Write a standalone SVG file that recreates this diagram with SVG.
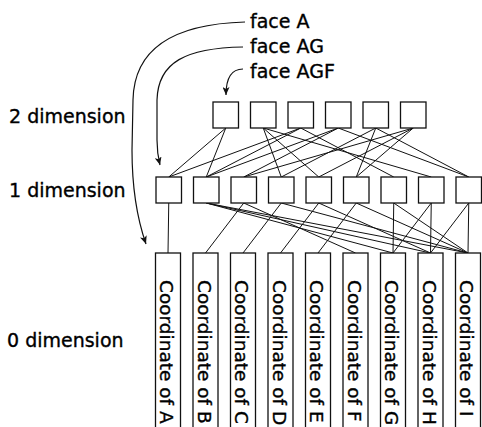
<svg xmlns="http://www.w3.org/2000/svg" width="482" height="427" viewBox="0 0 482 427">
<defs>
<style>
.bx{fill:#fff;stroke:#111;stroke-width:1.3}
.ln{stroke:#111;stroke-width:1;fill:none}
.cv{stroke:#111;stroke-width:1.2;fill:none}
.t{font-family:"DejaVu Sans","Liberation Sans",sans-serif;font-size:19px;fill:#000;stroke:#000;stroke-width:0.35}
.c{font-family:"DejaVu Sans","Liberation Sans",sans-serif;font-size:18.5px;fill:#000;stroke:#000;stroke-width:0.35}
</style>
<marker id="ah" markerUnits="userSpaceOnUse" markerWidth="9" markerHeight="7" refX="8" refY="3.5" orient="auto">
<path d="M0,0 L8,3.5 L0,7 L2,3.5 z" fill="#111"/>
</marker>
</defs>
<rect width="482" height="427" fill="#fff"/>
<g id="labels">
<text class="t" x="9" y="122.5">2 dimension</text>
<text class="t" x="9" y="196.5">1 dimension</text>
<text class="t" x="7" y="346.5">0 dimension</text>
<text class="t" x="250" y="28">face A</text>
<text class="t" x="250" y="53">face AG</text>
<text class="t" x="250" y="78">face AGF</text>
</g>
<g id="connectors">
<path class="cv" marker-end="url(#ah)" d="M245,22 C172,24 134,50 133,100 L132,150 C132,195 139,224 146,244"/>
<path class="cv" marker-end="url(#ah)" d="M243,47 C186,48 158,62 157,100 L157,140 C157,150 158,157 160,165"/>
<path class="cv" marker-end="url(#ah)" d="M243,69 C232,69 226,78 226,95"/>
<g class="ln">
<line x1="225.75" y1="128" x2="168.75" y2="177"/>
<line x1="225.75" y1="128" x2="206.25" y2="177"/>
<line x1="263.25" y1="128" x2="281.25" y2="177"/>
<line x1="263.25" y1="128" x2="318.75" y2="177"/>
<line x1="263.25" y1="128" x2="431.25" y2="177"/>
<line x1="300.75" y1="128" x2="168.75" y2="177"/>
<line x1="300.75" y1="128" x2="206.25" y2="177"/>
<line x1="300.75" y1="128" x2="393.75" y2="177"/>
<line x1="338.25" y1="128" x2="206.25" y2="177"/>
<line x1="338.25" y1="128" x2="243.75" y2="177"/>
<line x1="338.25" y1="128" x2="468.75" y2="177"/>
<line x1="375.75" y1="128" x2="281.25" y2="177"/>
<line x1="375.75" y1="128" x2="356.25" y2="177"/>
<line x1="375.75" y1="128" x2="468.75" y2="177"/>
<line x1="413.25" y1="128" x2="243.75" y2="177"/>
<line x1="413.25" y1="128" x2="318.75" y2="177"/>
<line x1="413.25" y1="128" x2="356.25" y2="177"/>

<line x1="168.75" y1="203" x2="168" y2="253"/>
<line x1="206.25" y1="203" x2="393" y2="253"/>
<line x1="206.25" y1="203" x2="430.5" y2="253"/>
<line x1="206.25" y1="203" x2="468" y2="253"/>
<line x1="243.75" y1="203" x2="205.5" y2="253"/>
<line x1="243.75" y1="203" x2="355.5" y2="253"/>
<line x1="281.25" y1="203" x2="243" y2="253"/>
<line x1="281.25" y1="203" x2="468" y2="253"/>
<line x1="318.75" y1="203" x2="280.5" y2="253"/>
<line x1="318.75" y1="203" x2="430.5" y2="253"/>
<line x1="356.25" y1="203" x2="318" y2="253"/>
<line x1="356.25" y1="203" x2="468" y2="253"/>
<line x1="393.75" y1="203" x2="393" y2="253"/>
<line x1="393.75" y1="203" x2="468" y2="253"/>
<line x1="431.25" y1="203" x2="430.5" y2="253"/>
<line x1="431.25" y1="203" x2="393" y2="253"/>
<line x1="468.75" y1="203" x2="468" y2="253"/>
<line x1="468.75" y1="203" x2="430.5" y2="253"/>
</g>
</g>
<g id="faces2">
<g id="f2-1"><rect class="bx" x="213" y="102" width="25.5" height="26"/></g>
<g id="f2-2"><rect class="bx" x="250.5" y="102" width="25.5" height="26"/></g>
<g id="f2-3"><rect class="bx" x="288" y="102" width="25.5" height="26"/></g>
<g id="f2-4"><rect class="bx" x="325.5" y="102" width="25.5" height="26"/></g>
<g id="f2-5"><rect class="bx" x="363" y="102" width="25.5" height="26"/></g>
<g id="f2-6"><rect class="bx" x="400.5" y="102" width="25.5" height="26"/></g>
</g>
<g id="faces1">
<g id="f1-1"><rect class="bx" x="156" y="177" width="25.5" height="26"/></g>
<g id="f1-2"><rect class="bx" x="193.5" y="177" width="25.5" height="26"/></g>
<g id="f1-3"><rect class="bx" x="231" y="177" width="25.5" height="26"/></g>
<g id="f1-4"><rect class="bx" x="268.5" y="177" width="25.5" height="26"/></g>
<g id="f1-5"><rect class="bx" x="306" y="177" width="25.5" height="26"/></g>
<g id="f1-6"><rect class="bx" x="343.5" y="177" width="25.5" height="26"/></g>
<g id="f1-7"><rect class="bx" x="381" y="177" width="25.5" height="26"/></g>
<g id="f1-8"><rect class="bx" x="418.5" y="177" width="25.5" height="26"/></g>
<g id="f1-9"><rect class="bx" x="456" y="177" width="25.5" height="26"/></g>
</g>
<g id="faces0">
<g id="v-A"><rect class="bx" x="155.5" y="253" width="25" height="200"/><text class="c" transform="translate(160,280) rotate(90)">Coordinate of A</text></g>
<g id="v-B"><rect class="bx" x="193" y="253" width="25" height="200"/><text class="c" transform="translate(197.5,280) rotate(90)">Coordinate of B</text></g>
<g id="v-C"><rect class="bx" x="230.5" y="253" width="25" height="200"/><text class="c" transform="translate(235,280) rotate(90)">Coordinate of C</text></g>
<g id="v-D"><rect class="bx" x="268" y="253" width="25" height="200"/><text class="c" transform="translate(272.5,280) rotate(90)">Coordinate of D</text></g>
<g id="v-E"><rect class="bx" x="305.5" y="253" width="25" height="200"/><text class="c" transform="translate(310,280) rotate(90)">Coordinate of E</text></g>
<g id="v-F"><rect class="bx" x="343" y="253" width="25" height="200"/><text class="c" transform="translate(347.5,280) rotate(90)">Coordinate of F</text></g>
<g id="v-G"><rect class="bx" x="380.5" y="253" width="25" height="200"/><text class="c" transform="translate(385,280) rotate(90)">Coordinate of G</text></g>
<g id="v-H"><rect class="bx" x="418" y="253" width="25" height="200"/><text class="c" transform="translate(422.5,280) rotate(90)">Coordinate of H</text></g>
<g id="v-I"><rect class="bx" x="455.5" y="253" width="25" height="200"/><text class="c" transform="translate(460,280) rotate(90)">Coordinate of I</text></g>
</g>
</svg>
